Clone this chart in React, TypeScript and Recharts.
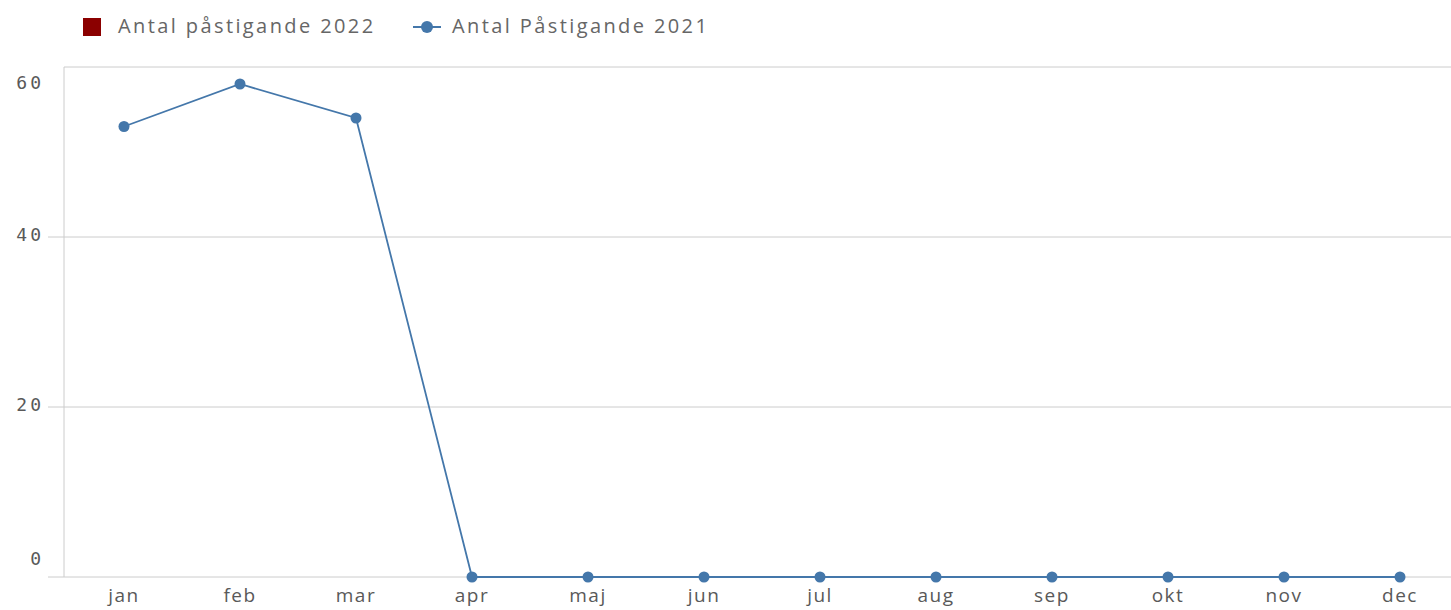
import React from 'react'
import {
  ComposedChart, Line, XAxis, YAxis, CartesianGrid,
} from 'recharts'

const months = ['jan', 'feb', 'mar', 'apr', 'maj', 'jun', 'jul', 'aug', 'sep', 'okt', 'nov', 'dec']
const antal2021 = [53, 58, 54, 0, 0, 0, 0, 0, 0, 0, 0, 0]
const antal2022: (number | null)[] = [null, null, null, null, null, null, null, null, null, null, null, null]
const yTicks = [0, 20, 40, 60]

const BLUE = '#4477aa'
const RED = '#8b0000'
const GRID = '#cccccc'
const TEXT = '#595959'
const FONT = '"Open Sans", sans-serif'

const data = months.map((m, i) => ({ month: m, a2021: antal2021[i], a2022: antal2022[i] }))

function YTick(props: any) {
  const { y, payload } = props
  const v = payload.value
  let dy = 4
  if (v === 0) dy = -12
  else if (v === 60) dy = 22
  return (
    <g>
      {v !== 60 && <line x1={48} x2={64} y1={y} y2={y} stroke={GRID} strokeWidth={1} />}
      <text x={44} y={y + dy} textAnchor="end" fill={TEXT}
        style={{ fontFamily: '"DejaVu Sans Mono", monospace', fontSize: 18, letterSpacing: 3 }}>
        {v}
      </text>
    </g>
  )
}

export default function App() {
  return (
    <div style={{ position: 'absolute', left: 0, top: 0, width: 1451, height: 610, background: '#fff' }}>
      <div style={{ position: 'absolute', left: 0, top: 0, height: 54, width: 1451, fontFamily: FONT, fontSize: 20, color: '#666', letterSpacing: 2.4 }}>
        <span style={{ position: 'absolute', left: 83, top: 18, width: 18, height: 18, background: RED }} />
        <span style={{ position: 'absolute', left: 118, top: 12 }}>Antal påstigande 2022</span>
        <span style={{ position: 'absolute', left: 413, top: 26, width: 28, height: 2, background: BLUE }} />
        <span style={{ position: 'absolute', left: 421, top: 21, width: 12, height: 12, borderRadius: 6, background: BLUE }} />
        <span style={{ position: 'absolute', left: 452, top: 12 }}>Antal Påstigande 2021</span>
      </div>
      <ComposedChart width={1451} height={610} data={data} margin={{ top: 67, right: 0, left: 0, bottom: 0 }}>
        <CartesianGrid vertical={false} stroke={GRID} />
        <XAxis
          dataKey="month"
          scale="point"
          padding={{ left: 60, right: 51 }}
          axisLine={false}
          tickLine={false}
          height={33}
          interval={0}
          tick={{ fill: TEXT, fontSize: 19, fontFamily: FONT, letterSpacing: 1.5 }}
          dy={4}
        />
        <YAxis
          width={64}
          domain={[0, 60]}
          ticks={yTicks}
          axisLine={{ stroke: GRID }}
          tickLine={false}
          tick={<YTick />}
        />
        <Line
          dataKey="a2022"
          name="Antal påstigande 2022"
          stroke={RED}
          dot={false}
          isAnimationActive={false}
        />
        <Line
          dataKey="a2021"
          name="Antal Påstigande 2021"
          stroke={BLUE}
          strokeWidth={1.8}
          dot={{ r: 5.5, fill: BLUE, stroke: 'none' }}
          activeDot={false}
          isAnimationActive={false}
        />
      </ComposedChart>
    </div>
  )
}
